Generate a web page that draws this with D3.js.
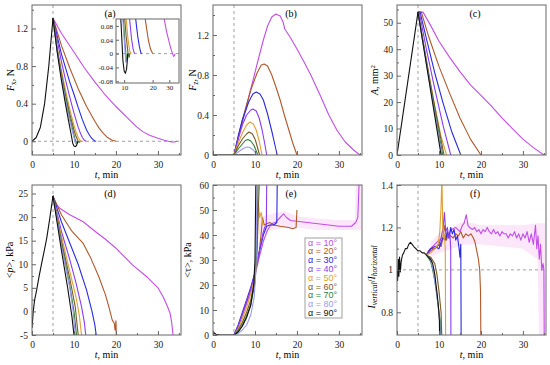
<!DOCTYPE html>
<meta charset="utf-8">
<script src="https://d3js.org/d3.v7.min.js"></script>
<style>
body { margin: 0; background: #fff; }
svg { display: block; font-family: "Liberation Serif", "Times New Roman", serif; }
.frame { fill: none; stroke: #666; stroke-width: 1; }
.tick line { stroke: #666; }
.tick text { fill: #222; }
.domain { display: none; }
.curve { fill: none; stroke-width: 1.1; stroke-linejoin: round; }
.guide { stroke: #888; stroke-dasharray: 3,3; stroke-width: 0.8; fill: none; }
.legend text { font-family: "Liberation Sans", Arial, sans-serif; font-size: 9px; }
</style>
<body>
</body>
<script>

var angles = [10, 20, 30, 40, 50, 60, 70, 80, 90];
var colors = ["#c24ee6", "#b0582a", "#2a2ae0", "#8a3cf0", "#e0a032", "#7a5a22", "#2e7d3a", "#9a9af2", "#111111"];
var xTicks = [0, 10, 20, 30];
var xMinor = [5, 15, 25, 35];

// (a) F_x, N   -- loading part (common) then one unloading curve per angle
var fxLoad = [[0,0],[1,0.04],[2,0.15],[3,0.4],[4,0.8],[5,1.31]];
var fxDrop = [
  [[5,1.31],[7,1.15],[10,0.95],[12.5,0.78],[15,0.63],[17.5,0.49],[20,0.37],[22.5,0.26],[25,0.15],[26.5,0.1],[28,0.065],[30,0.032],[31.5,0.01],[32.5,0.0],[33.3,-0.008],[34,-0.006],[34.6,0]],
  [[5,1.31],[7,1.02],[9,0.78],[11,0.56],[13,0.37],[15,0.21],[16,0.14],[17,0.085],[18,0.04],[19,0.013],[20,0]],
  [[5,1.31],[7,0.93],[9,0.63],[10,0.5],[11,0.36],[12,0.23],[13,0.12],[13.5,0.08],[14,0.045],[14.5,0.02],[15,0.003],[15.3,0]],
  [[5,1.31],[7,0.85],[8,0.65],[9,0.47],[10,0.3],[11,0.15],[11.5,0.09],[12,0.04],[12.5,0.01],[12.9,0]],
  [[5,1.31],[6,1.0],[7,0.76],[8,0.54],[9,0.34],[10,0.17],[10.5,0.1],[11,0.04],[11.5,0.005],[11.9,0]],
  [[5,1.31],[6,0.98],[7,0.72],[8,0.49],[9,0.29],[10,0.12],[10.5,0.05],[11,0.0],[11.3,-0.01],[11.5,0]],
  [[5,1.31],[6,0.97],[7,0.7],[8,0.46],[9,0.25],[9.7,0.12],[10.2,0.03],[10.6,-0.02],[10.9,-0.015],[11.1,0]],
  [[5,1.31],[6,0.96],[7,0.68],[8,0.43],[9,0.22],[9.5,0.13],[10,0.04],[10.4,-0.025],[10.7,-0.02],[10.9,0]],
  [[5,1.31],[6,0.95],[7,0.65],[8,0.39],[8.7,0.22],[9.3,0.08],[9.7,-0.02],[10,-0.05],[10.3,-0.057],[10.6,-0.045],[10.8,-0.02],[10.9,0]]
];

// (b) F_z, N
var fzLoad = [[0,0],[5,0]];
var fzDrop = [
  [[5,0],[7,0.33],[9,0.66],[11,0.99],[12,1.15],[13,1.29],[14,1.38],[15,1.41],[16,1.39],[16.7,1.33],[17.1,1.26],[18.5,1.17],[20,1.06],[21.7,0.93],[23.3,0.8],[25.5,0.6],[27.6,0.4],[29.5,0.25],[31.5,0.13],[33.5,0.05],[35,0]],
  [[5,0],[7,0.35],[9,0.65],[10.5,0.82],[11.5,0.9],[12.2,0.91],[13,0.89],[14,0.8],[15,0.68],[16,0.55],[17,0.4],[18,0.26],[19,0.12],[20,0]],
  [[5,0],[6,0.19],[7,0.35],[8.5,0.53],[9.5,0.61],[10.3,0.63],[11.2,0.61],[12,0.55],[13,0.41],[14,0.24],[14.7,0.11],[15.3,0]],
  [[5,0],[6,0.16],[7,0.3],[8,0.4],[9,0.45],[9.5,0.46],[10.3,0.44],[11,0.37],[11.7,0.25],[12.3,0.12],[12.8,0]],
  [[5,0],[6,0.12],[7,0.22],[8,0.3],[8.8,0.33],[9.6,0.31],[10.3,0.25],[11,0.14],[11.7,0]],
  [[5,0],[6,0.09],[7,0.16],[8,0.21],[8.6,0.23],[9.4,0.21],[10.1,0.15],[10.7,0.06],[11.1,0]],
  [[5,0],[6,0.06],[7,0.11],[7.7,0.145],[8.3,0.155],[9,0.14],[9.7,0.1],[10.3,0.04],[10.7,0]],
  [[5,0],[6,0.03],[7,0.06],[8,0.08],[8.8,0.075],[9.6,0.05],[10.5,0]],
  [[5,0],[8,0.003],[10.3,0]]
];

// (c) A, mm2
var aLoad = [[0,0],[5,54]];
var aDrop = [
  [[5,54],[6.2,54],[8,49],[10,43],[12.5,37],[15,31.5],[17.5,26.5],[20,22.5],[22.5,18.5],[25,14],[27.5,10],[30,6],[32.5,2.8],[35,0]],
  [[5,54],[5.8,54],[7.5,45],[10,33.5],[12.5,23.5],[15,14],[17.5,6],[20,0]],
  [[5,54],[5.5,54],[7,44],[9,31],[11,19.5],[13,9],[15.2,0]],
  [[5,54],[5.3,54],[7,40],[9,25],[11,11],[12.8,0]],
  [[5,54],[7,36],[9,18.5],[10.5,7],[11.8,0]],
  [[5,54],[8,26.5],[11.2,0]],
  [[5,54],[8,25.5],[10.9,0]],
  [[5,54],[8,25],[10.7,0]],
  [[5,54],[10.5,0]]
];

// (d) <p>, kPa
var pLoad = [[0,-3.5],[0.3,0],[0.6,2.3],[1.1,4.5],[1.7,7.5],[2.3,10.2],[2.9,12.8],[3.5,15.5],[4.2,19.5],[5,24.5]];
var pDrop = [
  [[5,24.5],[5.5,23],[6.7,21.8],[9,20.5],[12.2,19],[15,17],[17.5,15.3],[20,13.4],[22,11.6],[24,9.8],[27.4,7.3],[30,5],[31.3,3],[32.3,1],[32.9,-0.4],[33.3,-2.5],[33.6,-5]],
  [[5,24.5],[7,20.5],[9.5,17],[12.2,14.4],[14,11.3],[15.9,7.4],[17.5,3.5],[18.3,1],[19.1,-1.8],[19.6,-2.5],[19.8,-4],[20,-2],[20.1,-5]],
  [[5,24.5],[7,19],[9,14.5],[11,10],[13,4.5],[14.3,0],[15,-3],[15.3,-5]],
  [[5,24.5],[7,17],[9,11],[10.5,6],[11.8,1],[12.5,-2.5],[12.8,-5]],
  [[5,24.5],[7,16],[9,8.5],[10.5,3],[11.3,-1],[11.8,-5]],
  [[5,24.5],[7,15],[9,7],[10.3,1],[11,-5]],
  [[5,24.5],[7,14.5],[9,5.5],[10,0],[10.6,-5]],
  [[5,24.5],[7,14],[9,5],[9.8,0],[10.3,-5]],
  [[5,24.5],[7,13],[8.5,5],[9.5,-1],[10,-5]]
];

// (e) <tau>, kPa
var tauLoad = [[0,1.5],[0.3,0.8],[0.7,0.3],[1.5,0.05],[3,0],[5,0]];
var tauDrop = [
  [[5,0],[6,3.5],[7,8],[8,12.5],[9,17.5],[10,23.5],[11,31],[12,37.5],[13,42],[14,44.5],[15,45.2],[16,47],[16.8,48.5],[17.5,47],[18.5,45.8],[20,45.5],[25,44.5],[30,43.5],[33,43.5],[34,45],[34.5,47],[34.8,60]],
  [[5,0],[6,3.5],[7,8.5],[8,13.5],[9,18.5],[10,24.5],[11,33],[11.5,41],[11.8,47],[12.2,44],[12.8,44.5],[13.5,45],[14.5,44],[16,43.5],[18,43],[19,42.5],[19.8,43],[20,50]],
  [[5,0],[6,4],[7,9],[8,14],[9,19],[10,25],[11,33],[12,40],[12.8,43.5],[13.5,44],[14.5,44],[15.2,45],[15.3,60]],
  [[5,0],[6,3.5],[7,8.5],[8,13.5],[9,18.5],[10,24.5],[11,33],[11.8,40],[12.3,43],[12.7,44],[12.8,60]],
  [[5,0],[6,2.5],[7,6.5],[8,11],[9,16.5],[10,23],[10.5,30],[10.8,53],[11.1,47],[11.5,49],[11.8,45],[12,44]],
  [[5,0],[6,2],[7,5],[8,9],[9,14],[10,22],[10.5,35],[11,60]],
  [[5,0],[6,1.5],[7,4],[8,7.5],[9,12],[10,21],[10.5,40],[10.7,60]],
  [[5,0],[6,0.7],[7,2],[8,4],[9,8],[9.8,15],[10.2,25],[10.5,60]],
  [[5,0],[6,1.2],[7,3.5],[8,7],[9,12],[9.7,20],[10,30],[10.2,60]]
];
// light band of the 10 deg shear stress: [t, low, high]
var tauBand10 = [[11,40,47],[14,42,48.5],[17,43,49.5],[20,43,47.5],[25,42,46.5],[30,42,46],[33.8,42,46],[34,42,60],[35.3,42,60]];

// (f) I_vertical / I_horizontal
var iLoad = [[0,1.0],[0.15,0.95],[0.3,1.05],[0.45,0.97],[0.6,1.06],[0.8,0.99],[1,1.04],[1.3,1.07],[1.6,1.08],[2,1.1],[2.4,1.1],[2.8,1.12],[3.2,1.13],[3.6,1.12],[4,1.11],[4.5,1.1],[5,1.09],[5.5,1.09],[6,1.08],[6.5,1.08],[7,1.07]];
var iDrop = [
  [[7,1.07],[7.5,1.09],[8,1.1],[9,1.12],[10,1.14],[11,1.15],[12,1.16],[13,1.19],[14,1.2],[15,1.18],[15.6,1.21],[16,1.22],[16.5,1.26],[16.9,1.21],[17.3,1.2],[18,1.19],[18.5,1.2],[19,1.18],[19.5,1.19],[20,1.17],[20.5,1.19],[21,1.18],[21.5,1.2],[22,1.18],[22.5,1.17],[23,1.19],[23.5,1.17],[24,1.18],[24.5,1.16],[25,1.18],[25.5,1.17],[26,1.17],[26.5,1.15],[27,1.17],[27.5,1.16],[28,1.18],[28.5,1.15],[29,1.17],[29.5,1.14],[30,1.17],[30.5,1.15],[31,1.18],[31.5,1.13],[32,1.17],[32.5,1.12],[33,1.21],[33.3,1.1],[33.6,1.16],[33.9,1.05],[34.2,1.12],[34.5,1.0],[34.8,1.03],[35,1.0],[35.1,0.6]],
  [[7,1.07],[8,1.1],[9,1.1],[10,1.12],[10.5,1.11],[11,1.16],[11.4,1.21],[11.8,1.14],[12.2,1.17],[12.8,1.16],[13.4,1.15],[14,1.17],[14.6,1.16],[15.2,1.18],[15.8,1.15],[16.4,1.17],[17,1.16],[17.6,1.17],[18.2,1.15],[18.6,1.13],[19,1.09],[19.4,1.05],[19.7,1.0],[19.9,0.9],[20,0.6]],
  [[7,1.07],[8,1.1],[9,1.11],[10,1.1],[10.5,1.13],[11,1.15],[11.5,1.14],[12,1.18],[12.4,1.15],[12.8,1.2],[13.2,1.17],[13.6,1.19],[14,1.14],[14.4,1.16],[14.8,1.1],[15,1.06],[15.2,1.12],[15.3,0.6]],
  [[7,1.07],[8,1.09],[9,1.1],[10,1.12],[10.5,1.15],[11,1.2],[11.3,1.27],[11.6,1.18],[12,1.2],[12.3,1.15],[12.6,1.17],[12.8,1.1],[12.85,0.6]],
  [[7,1.07],[8,1.08],[9,1.1],[9.8,1.12],[10.2,1.18],[10.5,1.3],[10.7,1.45],[10.9,1.2],[11.1,1.15],[11.3,1.17],[11.5,1.1],[11.6,0.6]],
  [[7,1.07],[8,1.06],[9,1.03],[9.5,0.98],[10,0.9],[10.5,0.8],[10.8,0.6]],
  [[7,1.07],[8,1.04],[8.5,1.0],[9,0.95],[9.5,0.88],[10,0.8],[10.3,0.76],[10.5,0.6]],
  [[7,1.07],[8,1.05],[8.6,1.0],[9,0.95],[9.4,0.9],[9.8,0.83],[10.2,0.75],[10.4,0.6]],
  [[7,1.07],[7.5,1.06],[8,1.05],[8.5,1.03],[9,0.98],[9.3,0.93],[9.6,0.88],[9.9,0.82],[10.1,0.76],[10.2,0.6]]
];
var iBand10 = [[8,1.06,1.13],[10,1.08,1.17],[13,1.1,1.2],[16,1.12,1.23],[20,1.12,1.21],[25,1.11,1.21],[30,1.1,1.21],[33.5,1.05,1.22],[33.9,0.6,1.22],[35.3,0.6,1.22]];

var width = 550;
var height = 365;
var lefts = [32, 213, 397];
var tops = [5, 185];
var pw = 149, ph = 150;

var svg = d3.select("body").append("svg")
  .attr("width", width)
  .attr("height", height);

var panels = [
  {id: "a", col: 0, row: 0, y: [-0.146, 1.45], yt: [0, 0.4, 0.8, 1.2], load: fxLoad, drops: fxDrop, hline: 0, lx: 18,
   ylab: [["F", "i"], ["x", "sub"], [", N", ""]]},
  {id: "b", col: 1, row: 0, y: [0, 1.5], yt: [0, 0.4, 0.8, 1.2], load: fzLoad, drops: fzDrop, lx: 17,
   ylab: [["F", "i"], ["z", "sub"], [", N", ""]]},
  {id: "c", col: 2, row: 0, y: [0, 56.7], yt: [0, 10, 20, 30, 40, 50], load: aLoad, drops: aDrop, lx: 19,
   ylab: [["A", "i"], [", mm", ""], ["2", "sup"]]},
  {id: "d", col: 0, row: 1, y: [-5, 26.8], yt: [-5, 0, 5, 10, 15, 20, 25], load: pLoad, drops: pDrop, lx: 19,
   ylab: [["<", ""], ["p", "i"], [">, kPa", ""]]},
  {id: "e", col: 1, row: 1, y: [0, 60], yt: [0, 10, 20, 30, 40, 50, 60], load: tauLoad, drops: tauDrop, band: tauBand10, lx: 22,
   ylab: [["<\u03c4>, kPa", ""]]},
  {id: "f", col: 2, row: 1, y: [0.693, 1.4], yt: [0.8, 1, 1.2, 1.4], load: iLoad, drops: iDrop, band: iBand10, hline: 1, lx: 22,
   ylab: [["I", "i"], ["vertical", "isub"], ["/", ""], ["I", "i"], ["horizontal", "isub"]], ylabY: 277}
];

function addLabel(sel, parts, size) {
  parts.forEach(function(p) {
    var ts = sel.append("tspan").text(p[0]);
    if (p[1] == "i" || p[1] == "isub") ts.attr("font-style", "italic");
    if (p[1] == "sub" || p[1] == "isub") ts.attr("baseline-shift", "-25%").attr("font-size", size * 0.75);
    if (p[1] == "sup") ts.attr("baseline-shift", "40%").attr("font-size", size * 0.7);
  });
}

// midpoints between major y ticks, used as minor ticks
function midTicks(t) {
  var m = [];
  for (var i = 1; i < t.length; i++) m.push((t[i - 1] + t[i]) / 2);
  return m;
}

var line = d3.line();

panels.forEach(function(p) {
  var x0 = lefts[p.col], y0 = tops[p.row];
  var x = d3.scaleLinear().domain([0, 35.5]).range([x0, x0 + pw]);
  var y = d3.scaleLinear().domain(p.y).range([y0 + ph, y0]);
  line.x(function(d) { return x(d[0]); }).y(function(d) { return y(d[1]); });

  svg.append("clipPath").attr("id", "clip-" + p.id)
    .append("rect").attr("x", x0).attr("y", y0).attr("width", pw).attr("height", ph);

  var g = svg.append("g").attr("clip-path", "url(#clip-" + p.id + ")");

  if (p.band) {
    g.append("path")
      .datum(p.band)
      .attr("fill", "#f6b8f0")
      .attr("opacity", 0.35)
      .attr("d", d3.area().x(function(d) { return x(d[0]); })
        .y0(function(d) { return y(d[1]); }).y1(function(d) { return y(d[2]); }));
  }

  // guide lines
  g.append("line").attr("class", "guide")
    .attr("x1", x(5)).attr("x2", x(5)).attr("y1", y0).attr("y2", y0 + ph);
  if (p.hline !== undefined) {
    g.append("line").attr("class", "guide")
      .attr("x1", x0).attr("x2", x0 + pw).attr("y1", y(p.hline)).attr("y2", y(p.hline));
  }

  p.drops.forEach(function(d, i) {
    g.append("path").attr("class", "curve")
      .attr("stroke", colors[i])
      .attr("d", line(d));
  });
  g.append("path").attr("class", "curve")
    .attr("stroke", "#111")
    .attr("d", line(p.load));

  svg.append("g")
    .attr("transform", "translate(0," + (y0 + ph) + ")")
    .call(d3.axisBottom(x).tickValues(xTicks).tickSizeInner(-4).tickSizeOuter(0).tickPadding(6))
    .attr("font-size", 9.5)
    .attr("font-family", null);
  svg.append("g")
    .attr("transform", "translate(0," + (y0 + ph) + ")")
    .call(d3.axisBottom(x).tickValues(xMinor).tickSizeInner(-2).tickSizeOuter(0).tickFormat(""));

  var yMinor = midTicks(p.yt).concat([p.yt[p.yt.length - 1] + (p.yt[1] - p.yt[0]) / 2])
    .filter(function(v) { return v <= p.y[1]; });
  svg.append("g")
    .attr("transform", "translate(" + x0 + ",0)")
    .call(d3.axisLeft(y).tickValues(p.yt).tickSizeInner(-4).tickSizeOuter(0).tickPadding(4)
      .tickFormat(function(d) { return String(d); }))
    .attr("font-size", 9.5)
    .attr("font-family", null);
  svg.append("g")
    .attr("transform", "translate(" + x0 + ",0)")
    .call(d3.axisLeft(y).tickValues(yMinor).tickSizeInner(-2).tickSizeOuter(0).tickFormat(""));

  svg.append("rect").attr("class", "frame")
    .attr("x", x0).attr("y", y0).attr("width", pw).attr("height", ph);

  svg.append("text")
    .attr("x", x0 + 78).attr("y", y0 + 12)
    .attr("text-anchor", "middle")
    .attr("font-size", 10)
    .text("(" + p.id + ")");

  var xl = svg.append("text")
    .attr("x", x0 + pw / 2).attr("y", y0 + ph + 23)
    .attr("text-anchor", "middle")
    .attr("font-size", 10);
  addLabel(xl, [["t", "i"], [", min", ""]], 10);

  var yl = svg.append("text")
    .attr("transform", "translate(" + (x0 - p.lx) + "," + (p.ylabY || (y0 + ph / 2)) + ") rotate(-90)")
    .attr("text-anchor", "middle")
    .attr("font-size", 10);
  addLabel(yl, p.ylab, 10);

  // inset of panel (a): zoom near zero on a log time axis
  if (p.id == "a") {
    var ix0 = 116, ix1 = 179, iy0 = 19, iy1 = 83;
    var ixs = d3.scaleLog().domain([8.2, 38]).range([ix0, ix1]);
    var iys = d3.scaleLinear().domain([-0.085, 0.1]).range([iy1, iy0]);
    var il = d3.line().x(function(d) { return ixs(d[0]); }).y(function(d) { return iys(d[1]); });

    svg.append("rect").attr("x", ix0).attr("y", iy0).attr("width", ix1 - ix0).attr("height", iy1 - iy0)
      .attr("fill", "#fff");
    svg.append("clipPath").attr("id", "clip-inset")
      .append("rect").attr("x", ix0).attr("y", iy0).attr("width", ix1 - ix0).attr("height", iy1 - iy0);
    var ig = svg.append("g").attr("clip-path", "url(#clip-inset)");
    ig.append("line").attr("class", "guide")
      .attr("x1", ix0).attr("x2", ix1).attr("y1", iys(0)).attr("y2", iys(0));
    p.drops.forEach(function(d, i) {
      ig.append("path").attr("class", "curve")
        .attr("stroke", colors[i])
        .attr("d", il(d.filter(function(v) { return v[0] > 7; })));
    });

    svg.append("g")
      .attr("transform", "translate(0," + iy1 + ")")
      .call(d3.axisBottom(ixs).tickValues([10, 20, 30]).tickSizeInner(-3).tickSizeOuter(0).tickPadding(2)
        .tickFormat(function(d) { return String(d); }))
      .attr("font-size", 7)
      .attr("font-family", null);
    svg.append("g")
      .attr("transform", "translate(" + ix0 + ",0)")
      .call(d3.axisLeft(iys).tickValues([-0.08, -0.04, 0, 0.04, 0.08]).tickSizeInner(-3).tickSizeOuter(0).tickPadding(3)
        .tickFormat(function(d) { return String(d); }))
      .attr("font-size", 7)
      .attr("font-family", null);
    svg.append("rect").attr("class", "frame")
      .attr("x", ix0).attr("y", iy0).attr("width", ix1 - ix0).attr("height", iy1 - iy0);
  }

  // legend inside panel (e)
  if (p.id == "e") {
    var lg = svg.append("g").attr("class", "legend");
    lg.append("rect")
      .attr("x", 305).attr("y", 238).attr("width", 37).attr("height", 80)
      .attr("fill", "#fff").attr("stroke", "#888").attr("stroke-width", 0.8);
    angles.forEach(function(a, i) {
      lg.append("text")
        .attr("x", 308).attr("y", 245.5 + i * 8.8)
        .attr("fill", colors[i])
        .text("\u03b1 = " + a + "\u00b0");
    });
  }
});

</script>
